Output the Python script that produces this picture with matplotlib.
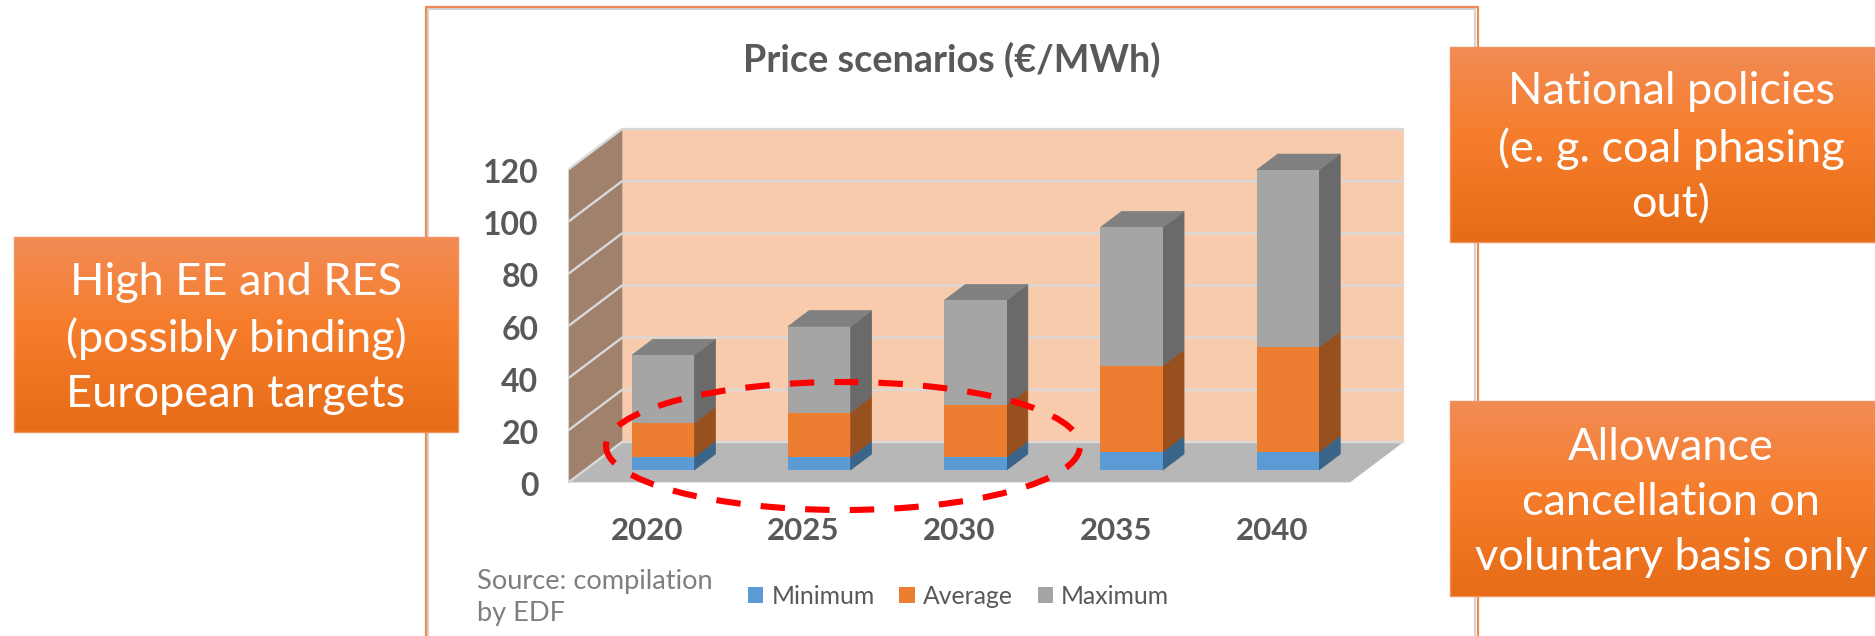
import numpy as np
import matplotlib
matplotlib.use("Agg")
import matplotlib.pyplot as plt
from matplotlib.patches import Polygon, Rectangle, Ellipse
from matplotlib.colors import LinearSegmentedColormap
from matplotlib.transforms import ScaledTranslation

years = ["2020", "2025", "2030", "2035", "2040"]
minimum = [5, 5, 5, 7, 7]
average = [13, 17, 20, 33, 40]
maximum = [26, 33, 40, 53, 68]
y_ticks = [0, 20, 40, 60, 80, 100, 120]
title = "Price scenarios (€/MWh)"
source = "Source: compilation\nby EDF"
box_left = "High EE and RES\n(possibly binding)\nEuropean targets"
box_top = "National policies\n(e. g. coal phasing\nout)"
box_bottom = "Allowance\ncancellation on\nvoluntary basis only"

W, H = 1875, 636
plt.rcParams["font.family"] = ["Lato", "DejaVu Sans"]
fig = plt.figure(figsize=(W / 100, H / 100), dpi=100, facecolor="white")

def rect_px(x0, y0, x1, y1):
    return [x0 / W, 1 - y1 / H, (x1 - x0) / W, (y1 - y0) / H]

# background layer in pixel coordinates
bg = fig.add_axes([0, 0, 1, 1], zorder=0)
bg.set_xlim(0, W); bg.set_ylim(H, 0); bg.axis("off")
bg.plot([428, 428, 1475, 1475], [H, 9, 9, H], color="#D4D4D4", lw=1.5)
bg.plot([425.5, 425.5, 1477.5, 1477.5], [H, 6.5, 6.5, H], color="#EE8B50", lw=1.6)
bg.text(952, 60, title, ha="center", va="center", fontsize=27.2, fontweight="bold", color="#595959")
bg.text(477, 598, source, ha="left", va="center", fontsize=19.6, color="#7F7F7F", linespacing=1.35)

# chart axes: the front plane of the 3-D box
ax = fig.add_axes(rect_px(569, 169, 1350, 482), zorder=1)
ax.set_xlim(0, 5); ax.set_ylim(0, 120)
ax.patch.set_visible(False)
for s in ax.spines.values():
    s.set_visible(False)
DX = 53 / 156.2
DY = 40 / 2.61

def P(x, v, d):
    return (x + d * DX, v + d * DY)

def poly(points, color, z):
    ax.add_patch(Polygon(points, closed=True, facecolor=color, edgecolor=color,
                         lw=0.5, zorder=z, clip_on=False))

top_v = y_ticks[-1]
poly([P(0, 0, 1), P(5, 0, 1), P(5, top_v, 1), P(0, top_v, 1)], "#F8CBAD", 1)
poly([P(0, 0, 0), P(0, 0, 1), P(0, top_v, 1), P(0, top_v, 0)], "#A0816C", 1)
poly([P(0, 0, 0), P(5, 0, 0), P(5, 0, 1), P(0, 0, 1)], "#B7B7B7", 1)
for v in y_ticks:
    xs, ys = zip(P(0, v, 0), P(0, v, 1), P(5, v, 1))
    ax.plot(xs, ys, color="#D9D9D9", lw=1.7, zorder=2, clip_on=False, solid_joinstyle="miter")

D0, D1, BW = 0.3, 0.7, 0.4
centers = np.arange(len(years)) + 0.5 + D0 * DX
series = [("Minimum", minimum, "#5B9BD5", "#3B6489"),
          ("Average", average, "#ED7D31", "#98501E"),
          ("Maximum", maximum, "#A5A5A5", "#6A6A6A")]
bottoms = np.zeros(len(years))
handles = []
for name, vals, front, side in series:
    vals = np.array(vals, float)
    b = ax.bar(centers, vals, width=BW, bottom=bottoms + D0 * DY, color=front,
               zorder=4, label=name, clip_on=False)
    handles.append(b)
    for i, (lo, h) in enumerate(zip(bottoms, vals)):
        xr = i + 0.5 + BW / 2
        poly([P(xr, lo, D0), P(xr, lo, D1), P(xr, lo + h, D1), P(xr, lo + h, D0)], side, 3)
    bottoms = bottoms + vals
for i, t in enumerate(bottoms):
    xl, xr = i + 0.5 - BW / 2, i + 0.5 + BW / 2
    poly([P(xl, t, D0), P(xr, t, D0), P(xr, t, D1), P(xl, t, D1)], "#808080", 3)

ax.set_xticks(np.arange(len(years)) + 0.5)
ax.set_xticklabels(years, fontsize=22.5, fontweight="bold", color="#595959")
ax.set_yticks(y_ticks)
ax.set_yticklabels([str(v) for v in y_ticks], fontsize=23, fontweight="bold", color="#595959")
ax.tick_params(axis="both", length=0)
ax.tick_params(axis="x", pad=25)
ax.tick_params(axis="y", pad=22)
shift = ScaledTranslation(0, -2 / 100, fig.dpi_scale_trans)
for lab in ax.get_yticklabels():
    lab.set_transform(lab.get_transform() + shift)

fig.legend(handles=handles, loc="center left", bbox_to_anchor=(748 / W, 1 - 596 / H), ncol=3,
           frameon=False, fontsize=17.8, labelcolor="#595959", handlelength=0.61, handleheight=0.61,
           handletextpad=0.34, columnspacing=1.0, borderpad=0, borderaxespad=0)

# overlay: dashed ellipse and gradient boxes
ov = fig.add_axes([0, 0, 1, 1], zorder=2)
ov.patch.set_visible(False)
ov.axis("off")
ov.add_patch(Ellipse((843, 446), 474, 128, fill=False, edgecolor="#FF0000", lw=4.4,
                     linestyle=(1.5, (4.0, 3.3)), zorder=3))
cmap = LinearSegmentedColormap.from_list("g", [(0, "#F28C55"), (0.45, "#F67D2C"), (1, "#E66C17")])
grad = np.linspace(0, 1, 256).reshape(-1, 1)
for (x0, y0, x1, y1, dx, txt) in [(14, 237, 458, 432, 0, box_left),
                                  (1450, 47, 1876, 242, 8, box_top),
                                  (1450, 401, 1876, 596, 8, box_bottom)]:
    ov.imshow(grad, cmap=cmap, extent=(x0, x1, y1, y0), aspect="auto", zorder=4)
    ov.add_patch(Rectangle((x0, y0), x1 - x0, y1 - y0, fill=False, edgecolor="#F2935F", lw=1, zorder=5))
    ov.text((x0 + x1) / 2 + dx, (y0 + y1) / 2 + 4, txt, ha="center", va="center", color="white",
            fontsize=32.5, linespacing=1.43, zorder=6)
ov.set_xlim(0, W); ov.set_ylim(H, 0)

fig.savefig("out.png", dpi=100)
